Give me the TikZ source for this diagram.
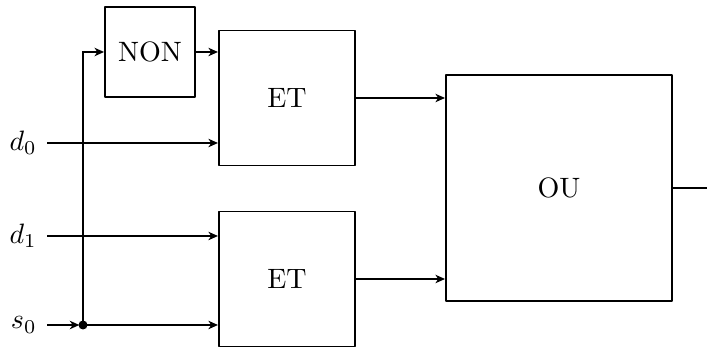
\documentclass[tikz,border=0pt]{standalone}
\usetikzlibrary{arrows.meta}
\begin{document}
\begin{tikzpicture}[x=0.357pt,y=-0.357pt,line width=0.7pt,
  box/.style={draw,inner sep=0pt,line join=round},
  conn/.style={-{Stealth[length=3.4pt,width=3pt,inset=1pt]}},
  lab/.style={anchor=east}]
\useasboundingbox (0,0) rectangle (707,347);
\clip (0,0) rectangle (707,347);
\node[box,minimum width=32.1pt,minimum height=32.1pt] (non) at (150,52) {NON};
\node[box,minimum width=48.6pt,minimum height=48.2pt] (et1) at (287,98) {ET};
\node[box,minimum width=48.6pt,minimum height=48.2pt] (et2) at (287,279) {ET};
\node[box,minimum width=80.7pt,minimum height=80.7pt] (ou) at (559,188) {OU};
\node[lab] (d0) at (47,143) {$d_0$};
\node[lab] (d1) at (47,236) {$d_1$};
\node[lab] (s0) at (47,325) {$s_0$};
\coordinate (dot) at (83,325);
\coordinate (out) at (720,188);
\draw[conn] (d0.east) -- (d0.east -| et1.west);
\draw[conn] (d1.east) -- (d1.east -| et2.west);
\draw[conn,shorten >=1.3pt] (s0.east) -- (dot);
\draw[conn] (dot) -- (dot -| et2.west);
\draw[conn] (dot) |- (non.west);
\fill (dot) circle (4.5);
\draw[conn] (non.east) -- (non.east -| et1.west);
\draw[conn] (et1.east) -- (et1.east -| ou.west);
\draw[conn] (et2.east) -- (et2.east -| ou.west);
\draw (ou.east) -- (out);
\end{tikzpicture}
\end{document}
